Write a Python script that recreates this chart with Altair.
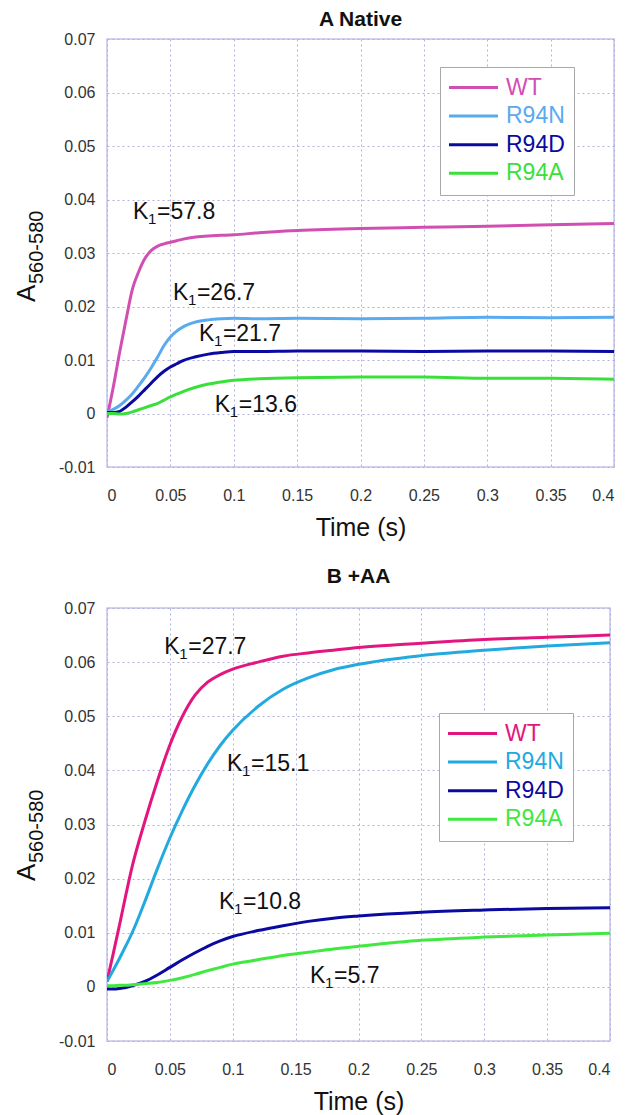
import altair as alt
import pandas as pd

# ---------------- data ----------------
series = ["WT", "R94N", "R94D", "R94A"]

time_a = [0, 0.005, 0.01, 0.015, 0.02, 0.025, 0.03, 0.035, 0.04, 0.045, 0.05, 0.055, 0.06,
          0.07, 0.08, 0.09, 0.1, 0.12, 0.15, 0.2, 0.25, 0.3, 0.35, 0.4]
wt_a = [-0.0008, 0.005, 0.0115, 0.0175, 0.0232, 0.0265, 0.029, 0.0305, 0.0313, 0.0317, 0.032, 0.0323, 0.0326,
        0.033, 0.0332, 0.0333, 0.0334, 0.0338, 0.0342, 0.0346, 0.0348, 0.035, 0.0353, 0.0355]
r94n_a = [0.0003, 0.0008, 0.0015, 0.0025, 0.0037, 0.0052, 0.0068, 0.0086, 0.0106, 0.0127, 0.0143, 0.0154, 0.0162,
          0.0171, 0.0175, 0.0177, 0.0178, 0.0177, 0.0178, 0.0177, 0.0178, 0.018, 0.0179, 0.018]
r94d_a = [0.0002, 0.0002, 0.0004, 0.0012, 0.0022, 0.0033, 0.0045, 0.0057, 0.0069, 0.0079, 0.0087, 0.0093, 0.0099,
          0.0106, 0.0111, 0.0114, 0.0116, 0.0116, 0.0117, 0.0117, 0.0116, 0.0117, 0.0117, 0.0116]
r94a_a = [0.0, 0.0, -0.0001, 0.0, 0.0003, 0.0007, 0.0011, 0.0015, 0.0019, 0.0025, 0.0031, 0.0036, 0.0041,
          0.0049, 0.0055, 0.0059, 0.0062, 0.0065, 0.0067, 0.0068, 0.0068, 0.0066, 0.0066, 0.0064]

time_b = [0, 0.005, 0.01, 0.015, 0.02, 0.03, 0.04, 0.05, 0.06, 0.07, 0.08,
          0.09, 0.1, 0.12, 0.14, 0.16, 0.18, 0.2, 0.25, 0.3, 0.35, 0.4]
wt_b = [0.001, 0.0062, 0.0115, 0.017, 0.0222, 0.0305, 0.038, 0.0447, 0.05, 0.0539, 0.0563,
        0.0577, 0.0587, 0.06, 0.0611, 0.0617, 0.0622, 0.0627, 0.0635, 0.0642, 0.0646, 0.065]
r94n_b = [0.001, 0.0031, 0.0053, 0.0076, 0.01, 0.0157, 0.0218, 0.0275, 0.0326, 0.0372, 0.0412,
          0.0446, 0.0474, 0.0518, 0.055, 0.0571, 0.0586, 0.0596, 0.0612, 0.0622, 0.063, 0.0636]
r94d_b = [-0.0004, -0.0004, -0.0003, -0.0001, 0.0002, 0.001, 0.0022, 0.0036, 0.005, 0.0063, 0.0075,
          0.0085, 0.0093, 0.0104, 0.0113, 0.0121, 0.0127, 0.0131, 0.0138, 0.0142, 0.0145, 0.0146]
r94a_b = [0.0002, 0.0002, 0.0003, 0.0003, 0.0004, 0.0006, 0.0008, 0.0012, 0.0017, 0.0023, 0.003,
          0.0036, 0.0042, 0.005, 0.0058, 0.0064, 0.007, 0.0075, 0.0086, 0.0092, 0.0096, 0.0099]

k_t_a = [0.0205, 0.052, 0.0725, 0.085]
k_v_a = [0.0376, 0.0226, 0.0148, 0.0015]
k_txt_a = ["=57.8", "=26.7", "=21.7", "=13.6"]

k_t_b = [0.0455, 0.0955, 0.089, 0.1615]
k_v_b = [0.0628, 0.0412, 0.0156, 0.0021]
k_txt_b = ["=27.7", "=15.1", "=10.8", "=5.7"]

x_ticks = [0, 0.05, 0.1, 0.15, 0.2, 0.25, 0.3, 0.35, 0.4]
y_ticks = [-0.01, 0, 0.01, 0.02, 0.03, 0.04, 0.05, 0.06, 0.07]

colors_a = ["#d24fb2", "#5aaaf0", "#0a0aa0", "#3ae03a"]
colors_b = ["#e3157e", "#22aae0", "#0a0aa0", "#40e840"]

FONT = "Liberation Sans"


def panel(title, times, vals, colors, kt, kv, ktxt, width, height,
          legend_x, legend_y, ytitle_x, ytitle_y, title_offset):
    rows = []
    for name, v in zip(series, vals):
        for t, y in zip(times, v):
            rows.append({"t": t, "v": y, "series": name})
    df = pd.DataFrame(rows)

    color_expr = " : ".join(
        f"datum.value == '{s}' ? '{c}'" for s, c in zip(series, colors[:-1])
    ) + f" : '{colors[-1]}'"

    lines = alt.Chart(df).mark_line(strokeWidth=3, clip=True, interpolate="monotone").encode(
        x=alt.X("t:Q", scale=alt.Scale(domain=[0, 0.4], nice=False, zero=False),
                axis=alt.Axis(values=x_ticks, labelExpr="'' + datum.value",
                              title="Time (s)")),
        y=alt.Y("v:Q", scale=alt.Scale(domain=[-0.01, 0.07], nice=False, zero=False),
                axis=alt.Axis(values=y_ticks, labelExpr="'' + datum.value", title=None)),
        color=alt.Color("series:N", scale=alt.Scale(domain=series, range=colors),
                        legend=alt.Legend(
                            title=None, orient="none", legendX=legend_x, legendY=legend_y,
                            symbolType="M-3,0H3", symbolSize=267, symbolStrokeWidth=3,
                            symbolOffset=13,
                            labelFontSize=23, labelFont=FONT, labelOffset=21,
                            labelColor=alt.ExprRef(color_expr),
                            rowPadding=4.6, padding=9,
                            strokeColor="#a8a8a8", fillColor="white",
                        )),
        order=alt.Order("t:Q"),
    )

    kdf = pd.DataFrame({"t": kt, "v": kv, "txt": ktxt})
    kbase = alt.Chart(kdf)
    k_main = kbase.mark_text(text="K", align="left", baseline="middle",
                             fontSize=23, font=FONT, color="#111").encode(x="t:Q", y="v:Q")
    k_sub = kbase.mark_text(text="1", align="left", baseline="middle", dx=15, dy=7,
                            fontSize=15, font=FONT, color="#111").encode(x="t:Q", y="v:Q")
    k_rest = kbase.mark_text(align="left", baseline="middle", dx=24,
                             fontSize=23, font=FONT, color="#111").encode(
        x="t:Q", y="v:Q", text="txt:N")

    one = pd.DataFrame({"a": ["A"], "b": ["560-580"]})
    yt_main = alt.Chart(one).mark_text(angle=270, align="left", baseline="alphabetic",
                                       fontSize=26, font=FONT, color="#111").encode(
        x=alt.value(ytitle_x), y=alt.value(ytitle_y), text="a:N")
    yt_sub = alt.Chart(one).mark_text(angle=270, align="left", baseline="alphabetic",
                                      fontSize=20, font=FONT, color="#111").encode(
        x=alt.value(ytitle_x + 8), y=alt.value(ytitle_y - 18), text="b:N")

    return alt.layer(lines, k_main, k_sub, k_rest, yt_main, yt_sub).properties(
        width=width, height=height,
        title=alt.TitleParams(title, fontSize=21, fontWeight="bold", font=FONT,
                              anchor="middle", frame="group", offset=title_offset,
                              color="#111"),
    )


pa = panel("A Native", time_a, [wt_a, r94n_a, r94d_a, r94a_a], colors_a,
           k_t_a, k_v_a, k_txt_a, 507, 428, 333, 28, -72, 263, 1)
pb = panel("B +AA", time_b, [wt_b, r94n_b, r94d_b, r94a_b], colors_b,
           k_t_b, k_v_b, k_txt_b, 503, 433, 332, 105, -72, 273, 13)

chart = alt.vconcat(pa, pb, spacing=24).properties(
    padding={"left": 5, "top": 0, "right": 0, "bottom": 0}
).resolve_scale(color="independent", x="independent", y="independent").configure_view(
    stroke="#c4c4ec", strokeWidth=1.5
).configure_axis(
    grid=True, gridColor="#b0b0dc", gridDash=[2, 3], gridWidth=1,
    domain=False, ticks=False, labelFont=FONT, labelFontSize=16, labelColor="#333",
    titleFont=FONT, titleFontSize=25, titleFontWeight="normal", titleColor="#111",
).configure_axisX(labelPadding=20, titlePadding=12).configure_axisY(labelPadding=12)

chart.save("out.html", embed_options={"renderer": "svg", "actions": False})
